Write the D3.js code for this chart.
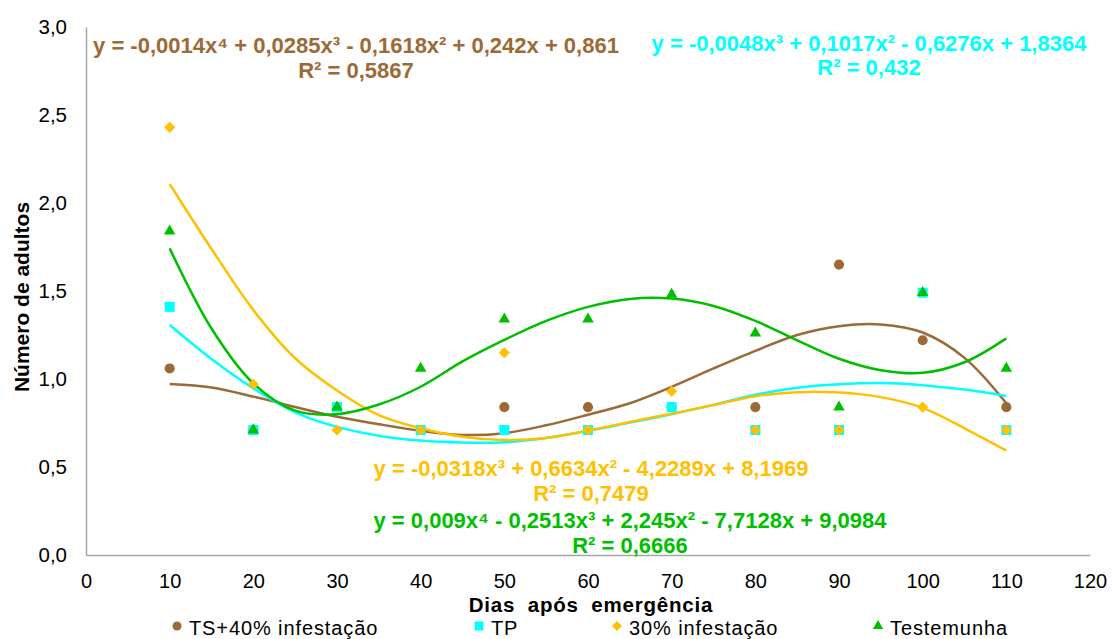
<!DOCTYPE html>
<html><head><meta charset="utf-8">
<script src="https://cdn.jsdelivr.net/npm/d3@7"></script>
<style>
html,body{margin:0;padding:0;background:#fff;}
svg{display:block;font-family:"Liberation Sans",Arial,sans-serif;}
</style></head>
<body><svg id="c" width="1117" height="639"></svg>
<script>
// ---- data ----
const days = [10,20,30,40,50,60,70,80,90,100,110];
const ts40 = [1.06,0.71,0.84,0.71,0.84,0.84,0.84,0.84,1.65,1.22,0.84];
const tp   = [1.41,0.71,0.84,0.71,0.71,0.71,0.84,0.71,0.71,1.49,0.71];
const inf30 = [2.43,0.97,0.71,0.71,1.15,0.71,0.93,0.71,0.71,0.84,0.71];
const test = [1.84,0.71,0.84,1.06,1.34,1.34,1.48,1.26,0.84,1.49,1.06];

// trend lines
const trendDays = [10,15,20,25,30,35,40,45,50,55,60,65,70,75,80,85,90,95,100,105,110];
const trendTs40 = [0.972,0.952,0.90,0.841,0.785,0.743,0.706,0.682,0.692,0.737,0.797,0.862,0.955,1.06,1.16,1.25,1.30,1.31,1.264,1.12,0.862];
const trendTp   = [1.307,1.114,0.947,0.811,0.728,0.678,0.65,0.639,0.64,0.665,0.705,0.752,0.80,0.853,0.91,0.95,0.97,0.977,0.965,0.94,0.903];
const trendInf30 = [2.108,1.739,1.392,1.118,0.935,0.795,0.72,0.672,0.653,0.665,0.707,0.756,0.803,0.852,0.902,0.925,0.923,0.897,0.836,0.72,0.593];
const trendTest = [1.742,1.287,0.975,0.82,0.80,0.855,0.956,1.10,1.222,1.33,1.41,1.455,1.457,1.415,1.33,1.22,1.115,1.05,1.035,1.095,1.231];

const seriesNames = ["TS+40% infestação","TP","30% infestação","Testemunha"];
const equations = [
  "y = -0,0014x⁴ + 0,0285x³ - 0,1618x² + 0,242x + 0,861",
  "y = -0,0048x³ + 0,1017x² - 0,6276x + 1,8364",
  "y = -0,0318x³ + 0,6634x² - 4,2289x + 8,1969",
  "y = 0,009x⁴ - 0,2513x³ + 2,245x² - 7,7128x + 9,0984"
];
const r2 = ["R² = 0,5867","R² = 0,432","R² = 0,7479","R² = 0,6666"];
const xTicks = [0,10,20,30,40,50,60,70,80,90,100,110,120];
const yTicks = [0,0.5,1,1.5,2,2.5,3];
const xTitle = "Dias após emergência";
const yTitle = "Número de adultos";

// ---- styles ----
const colors = ["#9B6A37","#00FFFF","#FFC000","#00BF00"];
const diamond = {draw(ctx,size){const r=Math.sqrt(size/2);ctx.moveTo(0,-r);ctx.lineTo(r,0);ctx.lineTo(0,r);ctx.lineTo(-r,0);ctx.closePath();}};
const shapes = [d3.symbolCircle,d3.symbolSquare,diamond,d3.symbolTriangle];
const sizes = [80,100,62,58];

const svg = d3.select("#c");
const x = d3.scaleLinear().domain([0,120]).range([86,1090]);
const y = d3.scaleLinear().domain([0,3]).range([555,27]);
const fmt = v => d3.format(".1f")(v).replace(".",",");

// axes
const gx = svg.append("g").attr("transform","translate(0,555)")
  .call(d3.axisBottom(x).tickValues(xTicks).tickSize(0).tickPadding(19).tickFormat(d3.format("d")));
const gy = svg.append("g").attr("transform","translate(86,0)")
  .call(d3.axisLeft(y).tickValues(yTicks).tickSize(0).tickPadding(19).tickFormat(fmt));
[gx,gy].forEach(g=>{
  g.select(".domain").attr("stroke","#A6A6A6").attr("stroke-width",1.5);
  g.selectAll("text").attr("font-size",20.5).attr("fill","#000").attr("font-family","Liberation Sans, Arial");
});
gx.selectAll("text").attr("font-size",20);

// titles
svg.append("text").attr("x",591).attr("y",612).attr("text-anchor","middle")
  .attr("font-size",20.5).attr("font-weight","bold").attr("letter-spacing",0.8).attr("word-spacing",6).text(xTitle);
svg.append("text").attr("transform","translate(29,297) rotate(-90)").attr("text-anchor","middle")
  .attr("font-size",21).attr("font-weight","bold").text(yTitle);

// trend lines
const trends = [trendTs40,trendTp,trendInf30,trendTest];
const line = d3.line().x((d,i)=>x(trendDays[i])).y(d=>y(d)).curve(d3.curveCatmullRom.alpha(0.5));
trends.forEach((t,k)=>{
  svg.append("path").datum(t).attr("d",line).attr("fill","none")
    .attr("stroke",colors[k]).attr("stroke-width",2.5);
});

// markers
const series = [ts40,tp,inf30,test];
series.forEach((s,k)=>{
  svg.append("g").selectAll("path").data(s).join("path")
    .attr("transform",(d,i)=>`translate(${x(days[i])},${y(d)})`)
    .attr("d",d3.symbol().type(shapes[k]).size(sizes[k]))
    .attr("fill",colors[k]);
});

// equations
const eqPos = [[356,53,78],[869,51,75],[591,476,501],[630,528,553]];
equations.forEach((e,k)=>{
  svg.append("text").attr("x",eqPos[k][0]).attr("y",eqPos[k][1]).attr("text-anchor","middle")
    .attr("font-size",22).attr("font-weight","bold").attr("fill",colors[k]).text(e);
  svg.append("text").attr("x",eqPos[k][0]).attr("y",eqPos[k][2]).attr("text-anchor","middle")
    .attr("font-size",22).attr("font-weight","bold").attr("fill",colors[k]).text(r2[k]);
});

// legend
const legX = [177,479,617,878];
seriesNames.forEach((n,k)=>{
  svg.append("path").attr("transform",`translate(${legX[k]},626)`)
    .attr("d",d3.symbol().type(shapes[k]).size(sizes[k]*0.8)).attr("fill",colors[k]);
  svg.append("text").attr("x",legX[k]+12).attr("y",634.5).attr("font-size",20).attr("letter-spacing",0.9).text(n);
});
</script></body></html>
